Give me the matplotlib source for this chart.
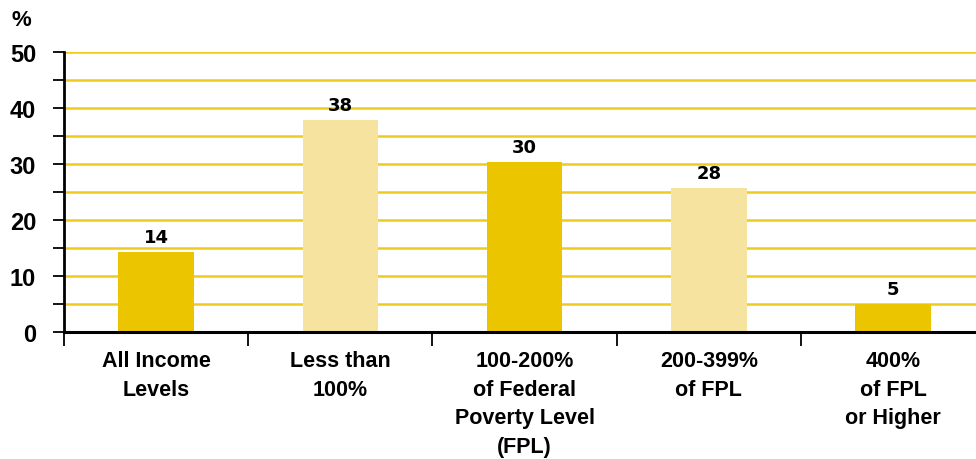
import matplotlib.pyplot as plt
import numpy as np

categories = ["All Income\nLevels", "Less than\n100%", "100-200%\nof Federal\nPoverty Level\n(FPL)",
              "200-399%\nof FPL", "400%\nof FPL\nor Higher"]
heights = [14.3, 37.8, 30.3, 25.7, 5.0]   # bar heights as drawn
labels = ["14", "38", "30", "28", "5"]    # printed values
colors = ["#EBC600", "#F7E3A0", "#EBC600", "#F7E3A0", "#EBC600"]

plt.rcParams['font.family'] = ['Liberation Sans', 'DejaVu Sans']

fig = plt.figure(figsize=(9.76, 4.6), dpi=100)
ax = fig.add_axes([64/976, 1 - 333/460, 1 - 64/976, 280/460])

x = np.arange(len(categories))
ax.bar(x, heights, width=0.41, color=colors, zorder=3)

for xi, h, lab in zip(x, heights, labels):
    ax.text(xi, h + 1.1, lab, ha='center', va='bottom', fontsize=13,
            fontweight='heavy', color='black', family='DejaVu Sans')

ax.set_ylim(0, 50)
ax.set_xlim(-0.5, 4.45)

ax.set_yticks(np.arange(0, 51, 10))
ax.set_yticks(np.arange(5, 50, 10), minor=True)
ax.set_yticklabels([str(v) for v in range(0, 51, 10)], fontsize=17, fontweight='bold')

for yv in np.arange(5, 51, 5):
    ax.axhline(yv, color='#EFCB1E', linewidth=1.8, zorder=1)

# category boundary ticks on x-axis
ax.set_xticks(np.arange(-0.5, 4.5, 1))
ax.set_xticklabels([])
ax.set_xticks(x, minor=True)
ax.set_xticklabels(categories, minor=True, fontsize=15.5, fontweight='bold', linespacing=1.48)
ax.tick_params(axis='x', which='minor', length=0, pad=13)
ax.tick_params(axis='x', which='major', length=10, width=1.3, direction='out')
ax.tick_params(axis='y', which='both', length=8, width=1.3, direction='out', pad=12)

for s in ['top', 'right']:
    ax.spines[s].set_visible(False)
ax.spines['left'].set_linewidth(2)
ax.spines['bottom'].set_linewidth(2.2)
ax.spines['left'].set_zorder(4)
ax.spines['bottom'].set_zorder(4)

fig.text(12/976, 1 - 20/460, "%", fontsize=16, fontweight='bold', va='center', ha='left')

fig.savefig("out.png", dpi=100)
